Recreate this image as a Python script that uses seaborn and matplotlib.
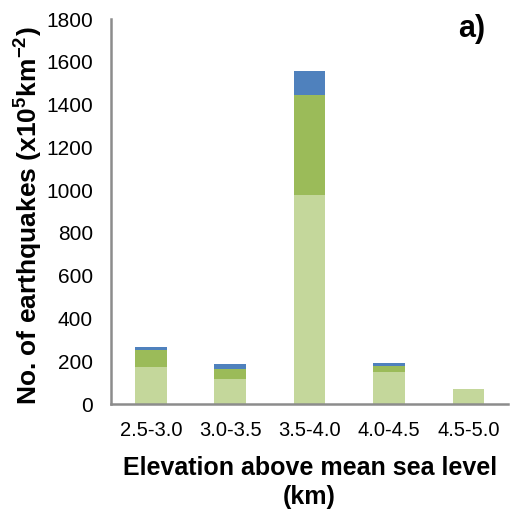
import matplotlib
matplotlib.use("Agg")
import matplotlib.pyplot as plt
import seaborn as sns
import pandas as pd

categories = ["2.5-3.0", "3.0-3.5", "3.5-4.0", "4.0-4.5", "4.5-5.0"]
light = [173, 117, 977, 150, 72]
mid = [81, 47, 466, 26, 0]
top = [11, 22, 114, 14, 0]

c_light = "#C4D79B"
c_mid = "#9BBB59"
c_top = "#4F81BD"

sns.set_theme(style="white")
plt.rcParams["font.family"] = ["Liberation Sans", "DejaVu Sans"]
plt.rcParams["mathtext.fontset"] = "custom"
plt.rcParams["mathtext.rm"] = "Liberation Sans"
plt.rcParams["mathtext.bf"] = "Liberation Sans:bold"

df = pd.DataFrame({"cat": categories, "light": light, "mid": mid, "top": top})
df["s1"] = df["light"]
df["s2"] = df["light"] + df["mid"]
df["s3"] = df["s2"] + df["top"]

fig = plt.figure(figsize=(5.19, 5.16), dpi=100)
ax = fig.add_axes([0.214, 0.217, 0.765, 0.746])

# stacked bars: draw cumulative totals, tallest first
for col, color in [("s3", c_top), ("s2", c_mid), ("s1", c_light)]:
    sns.barplot(data=df, x="cat", y=col, order=categories, color=color,
                width=0.4, saturation=1, ax=ax, edgecolor="none")

ax.set_ylim(0, 1800)
ax.set_xlim(-0.5, len(categories) - 0.5)
ax.set_yticks(range(0, 1801, 200))
ax.set_xticks([i - 0.5 for i in range(len(categories) + 1)], minor=True)
ax.tick_params(axis="x", which="major", length=0, labelsize=14.5, pad=12, labelcolor="black")
ax.tick_params(axis="x", which="minor", length=5, width=1.4, color="#8c8c8c", direction="out")
ax.tick_params(axis="y", length=5, width=1.4, color="#8c8c8c", direction="out",
               labelsize=15, pad=8, labelcolor="black")

for s in ["top", "right"]:
    ax.spines[s].set_visible(False)
for s in ["left", "bottom"]:
    ax.spines[s].set_color("#8c8c8c")
    ax.spines[s].set_linewidth(1.8)

ax.set_xlabel("Elevation above mean sea level\n(km)", fontsize=18, fontweight="bold",
              labelpad=12, linespacing=1.25, color="black")
ax.set_ylabel("No. of earthquakes (x10$^{\\mathbf{5}}$km$^{\\mathbf{-2}}$)", fontsize=19,
              fontweight="bold", color="black")
ax.yaxis.set_label_coords(-0.17, 0.49)
fig.text(0.935, 0.972, "a)", ha="right", va="top", fontsize=22, fontweight="bold",
         color="black")

fig.savefig("out.png", dpi=100)
